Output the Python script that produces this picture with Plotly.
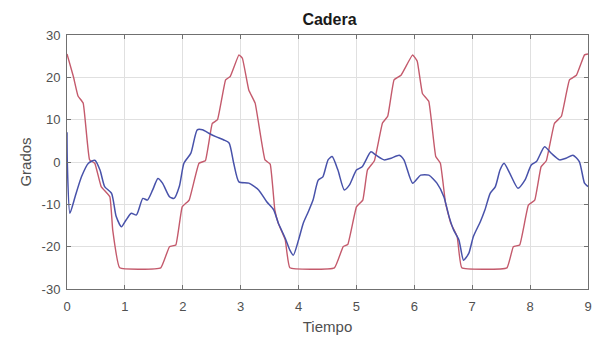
import plotly.graph_objects as go

# Red series (reference trajectory)
red_t = [0.0, 0.11, 0.19, 0.28, 0.39, 0.48, 0.59, 0.74, 0.79, 0.91, 1.62, 1.77, 1.88, 1.99, 2.11, 2.28, 2.39,
         2.51, 2.6, 2.74, 2.82, 2.97, 3.03, 3.14, 3.25, 3.42, 3.51, 3.59, 3.65, 3.77, 3.85, 4.62, 4.77, 4.85,
         5.0, 5.11, 5.19, 5.31, 5.45, 5.54, 5.65, 5.77, 5.97, 6.05, 6.14, 6.25, 6.37, 6.45, 6.54, 6.63, 6.74,
         6.82, 7.6, 7.71, 7.82, 7.97, 8.08, 8.19, 8.28, 8.42, 8.54, 8.68, 8.8, 8.94, 9.0]
red_y = [25.5, 20.2, 15.6, 13.9, 0.5, -0.3, -5.8, -8.2, -16.1, -25.0, -25.0, -20.0, -19.6, -10.6, -9.0, -0.3, 0.3,
         9.1, 10.0, 19.4, 20.2, 25.3, 24.5, 17.0, 13.9, 0.5, -0.5, -11.3, -14.5, -18.4, -25.0, -25.0, -20.0, -19.5,
         -10.6, -9.0, -1.9, 0.3, 9.2, 10.8, 19.4, 20.5, 25.3, 23.8, 16.2, 14.3, 1.3, -0.3, -9.8, -14.5, -17.6,
         -25.0, -25.0, -20.0, -19.6, -10.2, -9.0, -1.1, 0.3, 9.1, 10.8, 19.4, 20.5, 25.3, 25.5]

# Blue series (measured trajectory)
blue_t = [0.0, 0.005, 0.05, 0.14, 0.25, 0.37, 0.48, 0.57, 0.65, 0.77, 0.85, 0.94, 1.02, 1.11, 1.2, 1.31, 1.39,
          1.48, 1.57, 1.65, 1.77, 1.85, 1.94, 2.02, 2.14, 2.25, 2.34, 2.45, 2.57, 2.71, 2.8, 2.88, 2.97, 3.14,
          3.31, 3.45, 3.57, 3.65, 3.77, 3.85, 3.91, 4.0, 4.08, 4.17, 4.25, 4.34, 4.42, 4.51, 4.58, 4.68, 4.79,
          4.88, 5.0, 5.1, 5.25, 5.34, 5.48, 5.6, 5.74, 5.82, 5.97, 6.11, 6.25, 6.39, 6.51, 6.6, 6.68, 6.77,
          6.85, 6.94, 7.02, 7.14, 7.22, 7.31, 7.4, 7.48, 7.55, 7.65, 7.79, 7.91, 8.02, 8.11, 8.25, 8.37, 8.51,
          8.62, 8.74, 8.85, 8.94, 9.0]
blue_y = [7.0, 0.0, -12.1, -8.2, -3.5, -0.3, 0.4, -1.9, -5.8, -7.4, -12.9, -15.3, -13.7, -12.1, -12.5, -8.6, -9.0,
          -6.6, -3.9, -5.0, -8.2, -8.6, -5.8, -0.3, 2.1, 7.6, 7.6, 6.8, 6.0, 5.2, 4.5, -0.3, -4.7, -5.0,
          -6.6, -9.4, -11.3, -14.4, -18.0, -20.8, -22.0, -18.4, -14.5, -11.7, -9.0, -4.3, -3.5, 0.5, 1.3, -1.9, -6.6,
          -5.4, -1.9, -1.1, 2.4, 1.6, 0.5, 0.9, 1.6, 0.5, -5.0, -3.1, -3.1, -5.0, -8.2, -12.9, -16.1, -18.4,
          -23.2, -21.6, -17.6, -14.1, -11.3, -7.4, -5.8, -1.9, -0.3, -2.7, -6.2, -4.3, -0.7, 0.1, 3.6, 2.0, 0.5,
          0.9, 1.6, 0.1, -5.0, -5.8]

x_ticks = [0, 1, 2, 3, 4, 5, 6, 7, 8, 9]
y_ticks = [-30, -20, -10, 0, 10, 20, 30]

fig = go.Figure()
fig.add_trace(go.Scatter(x=red_t, y=red_y, mode="lines",
                         line=dict(color="#C45A6C", width=1.4, shape="spline", smoothing=0.3),
                         showlegend=False))
fig.add_trace(go.Scatter(x=blue_t, y=blue_y, mode="lines",
                         line=dict(color="#4852AA", width=1.5, shape="spline", smoothing=0.6),
                         showlegend=False))

axis_common = dict(showline=True, linecolor="#707070", linewidth=1, mirror="ticks",
                   ticks="inside", ticklen=4, tickcolor="#707070",
                   showgrid=True, gridcolor="#E0E0E0", gridwidth=1, zeroline=False,
                   tickfont=dict(family="Liberation Sans, Arial", size=13, color="#505050"))

fig.update_layout(
    width=598, height=338,
    margin=dict(l=67, r=6, t=35, b=49),
    paper_bgcolor="white", plot_bgcolor="white",
    title=dict(text="<b>Cadera</b>", x=(67 + 592) / 2 / 598, xanchor="center", y=1 - 19 / 338, yanchor="middle",
               font=dict(family="Liberation Sans, Arial", size=16, color="#1A1A1A")),
    xaxis=dict(range=[0, 9], tickvals=x_ticks, ticktext=[str(v) for v in x_ticks], ticklabelstandoff=5,
               title=dict(text="Tiempo", standoff=8, font=dict(family="Liberation Sans, Arial", size=15, color="#505050")),
               **axis_common),
    yaxis=dict(range=[-30, 30], tickvals=y_ticks, ticktext=[str(v) for v in y_ticks], ticklabelstandoff=3,
               title=dict(text="Grados", standoff=6, font=dict(family="Liberation Sans, Arial", size=15, color="#505050")),
               **axis_common),
)

fig.write_html("out.html")
